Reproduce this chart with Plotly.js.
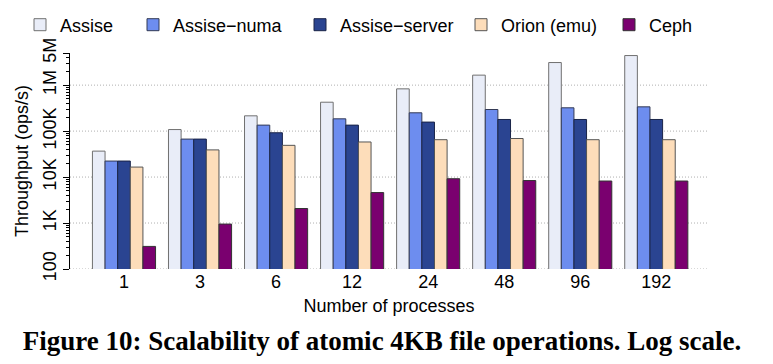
<!DOCTYPE html>
<html>
<head>
<meta charset="utf-8">
<script src="https://cdn.plot.ly/plotly-3.0.1.min.js"></script>
<style>html,body{margin:0;padding:0;background:#fff;}#chart{width:773px;height:364px;}</style>
</head>
<body>
<div id="chart"></div>
<script>
var processes = ['1', '3', '6', '12', '24', '48', '96', '192'];
var assise = [36700, 108000, 215000, 425000, 830000, 1650000, 3100000, 4400000];
var assiseNuma = [22300, 67000, 135000, 185000, 250000, 295000, 321000, 337000];
var assiseServer = [22300, 67000, 92000, 135000, 157000, 179000, 179000, 179000];
var orion = [16500, 39000, 49000, 58000, 65000, 69000, 65000, 65000];
var ceph = [310, 950, 2070, 4600, 9200, 8400, 8200, 8200];

var seriesNames = ['Assise', 'Assise\u2212numa', 'Assise\u2212server', 'Orion (emu)', 'Ceph'];
var seriesValues = [assise, assiseNuma, assiseServer, orion, ceph];
var seriesColors = ['#E9EDF8', '#6D8DEF', '#2A4491', '#FDDDBA', '#7A006F'];
var seriesLines = ['#707070', '#333a55', '#1a2448', '#555555', '#333333'];
var legendIds = ['legend', 'legend2', 'legend3', 'legend4', 'legend5'];
var legendLeftPx = [20, 133, 300, 461, 609];

var yTickVals = [100, 1000, 10000, 100000, 1000000, 5000000];
var yTickText = ['100', '1K', '10K', '100K', '1M', '5M'];
var gridVals = [100, 1000, 10000, 100000, 1000000];

var font = 'Liberation Sans, Arial, Helvetica, sans-serif';

var traces = seriesNames.map(function (name, i) {
  return {
    type: 'bar',
    name: name,
    x: processes,
    y: seriesValues[i],
    legend: legendIds[i],
    marker: {color: seriesColors[i], line: {color: seriesLines[i], width: 1}},
    hoverinfo: 'x+y+name'
  };
});

var shapes = gridVals.map(function (v) {
  return {
    type: 'line', xref: 'paper', yref: 'y', x0: 0, x1: 1, y0: v, y1: v,
    line: {color: '#b0b0b0', width: 1, dash: '1px,2px'}, layer: 'below'
  };
});

var layout = {
  width: 773, height: 364,
  margin: {l: 70, r: 65, t: 53, b: 95, pad: 0},
  paper_bgcolor: '#ffffff', plot_bgcolor: '#ffffff',
  font: {family: font, size: 18, color: '#000'},
  barmode: 'group', bargap: 0.17, bargroupgap: 0,
  showlegend: true,
  xaxis: {
    type: 'category', range: [-0.71, 7.68],
    showgrid: false, zeroline: false, showline: false, ticks: '',
    tickfont: {family: font, size: 18},
    title: {text: 'Number of processes', font: {family: font, size: 18}, standoff: 8}
  },
  yaxis: {
    type: 'log', range: [2, Math.log10(5000000)],
    tickmode: 'array', tickvals: yTickVals, ticktext: yTickText,
    tickangle: -90, ticks: 'outside', ticklen: 6, tickcolor: '#000', tickwidth: 1,
    showline: true, linecolor: '#000', linewidth: 1,
    showgrid: false, zeroline: false,
    tickfont: {family: font, size: 18},
    minor: {dtick: 'D1', ticks: 'outside', ticklen: 3, tickcolor: '#000', showgrid: false},
    title: {text: 'Throughput (ops/s)', font: {family: font, size: 18}, standoff: 6}
  },
  shapes: shapes,
  title: {
    text: '<b>Figure 10: Scalability of atomic 4KB file operations. Log scale.</b>',
    font: {family: 'Liberation Serif, Times New Roman, serif', size: 27, color: '#000'},
    xref: 'container', yref: 'container', x: 382 / 773, xanchor: 'center',
    y: 1 - 341 / 364, yanchor: 'middle'
  }
};

legendIds.forEach(function (id, i) {
  layout[id] = {
    orientation: 'h', xref: 'container', yref: 'container',
    x: legendLeftPx[i] / 773, y: 1 - 25 / 364, xanchor: 'left', yanchor: 'middle',
    font: {family: font, size: 18, color: '#000'},
    bgcolor: 'rgba(0,0,0,0)'
  };
});

Plotly.newPlot('chart', traces, layout, {staticPlot: true, displayModeBar: false});
</script>
</body>
</html>
